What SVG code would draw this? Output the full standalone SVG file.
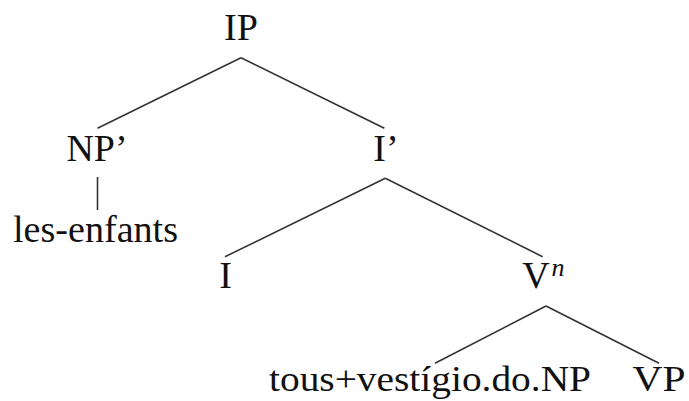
<svg xmlns="http://www.w3.org/2000/svg" width="689" height="401" viewBox="0 0 689 401">
<style>
text{font-family:"Liberation Serif","Times New Roman",serif;font-size:38px;fill:#111;text-anchor:middle}
.e{stroke:#333;stroke-width:1.6;fill:none}
</style>
<rect width="689" height="401" fill="#fff"/>
<g id="edges">
<line class="e" x1="241" y1="57.7" x2="97.5" y2="128.3"/>
<line class="e" x1="241" y1="57.7" x2="384.4" y2="128.3"/>
<line class="e" x1="97.5" y1="177" x2="97.5" y2="210"/>
<line class="e" x1="385.3" y1="178.3" x2="225" y2="256.7"/>
<line class="e" x1="385.3" y1="178.3" x2="542.6" y2="256.7"/>
<line class="e" x1="546" y1="306" x2="435" y2="363.3"/>
<line class="e" x1="546" y1="306" x2="659" y2="363.3"/>
</g>
<g id="IP"><text x="241" y="40">IP</text></g>
<g id="NPp"><text x="97" y="161" textLength="61" lengthAdjust="spacingAndGlyphs">NP’</text></g>
<g id="Ip"><text x="386" y="161">I’</text></g>
<g id="lesenfants"><text x="95.5" y="241.7" textLength="165" lengthAdjust="spacingAndGlyphs">les-enfants</text></g>
<g id="I"><text x="225.5" y="288.3">I</text></g>
<g id="Vn"><text x="536" y="288.3">V</text><text x="558" y="276" style="font-size:26px;font-style:italic">n</text></g>
<g id="tous"><text x="430" y="391" style="font-size:36px" textLength="322" lengthAdjust="spacingAndGlyphs">tous+vestígio.do.NP</text></g>
<g id="VP"><text x="659" y="391" style="font-size:36px" textLength="53" lengthAdjust="spacingAndGlyphs">VP</text></g>
</svg>
